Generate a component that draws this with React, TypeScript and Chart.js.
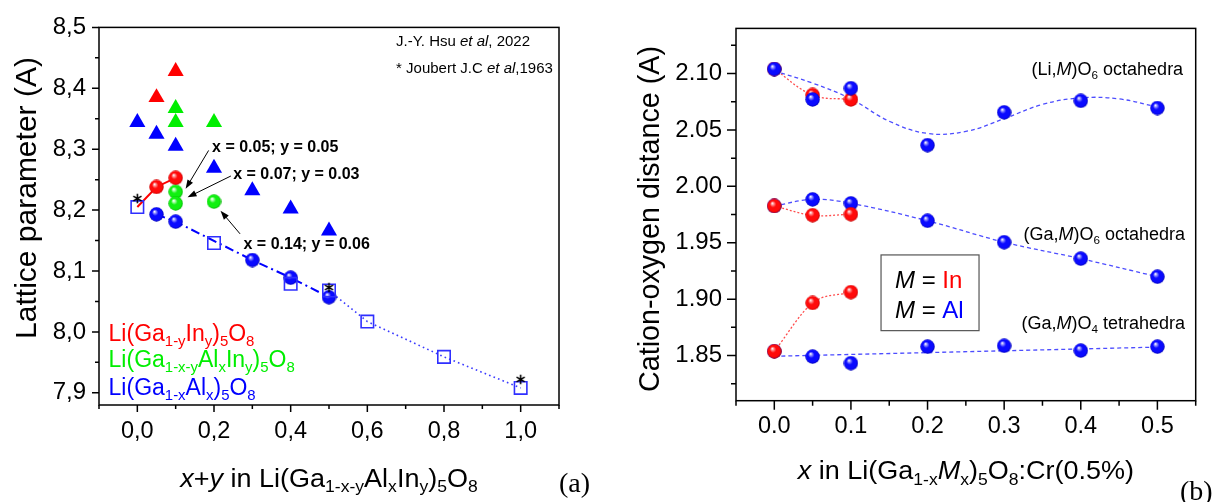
import React, { useEffect, useRef } from "react";
import { Chart, registerables } from "chart.js";
Chart.register(...registerables);

const SANS = '"Liberation Sans", Arial, Helvetica, sans-serif';
const SERIF = '"Liberation Serif", "Times New Roman", Times, serif';
Chart.defaults.font.family = SANS;

// ================= Panel (a): lattice parameter =================
const triInX = [0.05, 0.1];
const triInY = [8.385, 8.428];
const triMixX = [0.1, 0.1, 0.2];
const triMixY = [8.367, 8.344, 8.344];
const triAlX = [0, 0.05, 0.1, 0.2, 0.3, 0.4, 0.5];
const triAlY = [8.344, 8.325, 8.305, 8.269, 8.232, 8.202, 8.166];
const ballInX = [0.05, 0.1];
const ballInY = [8.238, 8.253];
const lineInX = [0, 0.05, 0.1];
const lineInY = [8.205, 8.238, 8.253];
const ballMixX = [0.1, 0.1, 0.2];
const ballMixY = [8.23, 8.211, 8.214];
const ballAlX = [0.05, 0.1, 0.3, 0.4, 0.5];
const ballAlY = [8.193, 8.181, 8.118, 8.089, 8.057];
const refX = [0, 0.2, 0.4, 0.5, 0.6, 0.8, 1.0];
const refY = [8.205, 8.146, 8.079, 8.068, 8.017, 7.959, 7.908];
const refLineX = [0.5, 0.6, 0.8, 1.0];
const refLineY = [8.068, 8.017, 7.959, 7.908];
const joubertX = [0, 0.5, 1.0];
const joubertY = [8.219, 8.073, 7.922];
const aXMajor = [0, 0.2, 0.4, 0.6, 0.8, 1.0];
const aXMinor = [-0.1, 0.1, 0.3, 0.5, 0.7, 0.9, 1.1];
const aYMajor = [7.9, 8.0, 8.1, 8.2, 8.3, 8.4, 8.5];
const aYMinor = [7.95, 8.05, 8.15, 8.25, 8.35, 8.45];

// ================= Panel (b): cation-oxygen distances =================
const xAl = [0, 0.05, 0.1, 0.2, 0.3, 0.4, 0.5];
const xIn = [0, 0.05, 0.1];
const liO6Al = [2.104, 2.077, 2.087, 2.0365, 2.0656, 2.0758, 2.0694];
const liO6In = [2.104, 2.081, 2.077];
const gaO6Al = [1.9826, 1.9884, 1.9849, 1.9695, 1.9505, 1.9359, 1.9199];
const gaO6In = [1.9826, 1.9744, 1.9753];
const gaO4Al = [1.8538, 1.8491, 1.8433, 1.8579, 1.8587, 1.8544, 1.8579];
const gaO4In = [1.8538, 1.8966, 1.9062];
const liFitX = [0, 0.05, 0.1, 0.15, 0.2, 0.25, 0.3, 0.35, 0.4, 0.45, 0.5];
const liFitY = [2.1023, 2.0915, 2.0775, 2.0577, 2.0469, 2.0487, 2.06, 2.0726, 2.0784, 2.0775, 2.0703];
const gaO4FitX = [0, 0.5];
const gaO4FitY = [1.8494, 1.8575];
const bXMajor = [0, 0.1, 0.2, 0.3, 0.4, 0.5];
const bXMinor = [-0.05, 0.05, 0.15, 0.25, 0.35, 0.45, 0.55];
const bYMajor = [1.85, 1.9, 1.95, 2.0, 2.05, 2.1];
const bYMinor = [1.825, 1.875, 1.925, 1.975, 2.025, 2.075, 2.125];

const pts = (xs: number[], ys: number[]) => xs.map((x, i) => ({ x, y: ys[i] }));

type Seg = { t: string; sub?: boolean; it?: boolean; c?: string };

function fontStr(size: number, it?: boolean, bold?: boolean, fam?: string) {
  return `${it ? "italic " : ""}${bold ? "bold " : ""}${size}px ${fam || SANS}`;
}

function drawRich(
  ctx: CanvasRenderingContext2D,
  segs: Seg[],
  x: number,
  y: number,
  size: number,
  o: { align?: string; rot?: boolean; bold?: boolean; color?: string; family?: string; sx?: number } = {}
) {
  const subSize = size * 0.65;
  ctx.save();
  ctx.translate(x, y);
  if (o.rot) ctx.rotate(-Math.PI / 2);
  if (o.sx) ctx.scale(o.sx, 1);
  ctx.textBaseline = "alphabetic";
  ctx.textAlign = "left";
  let w = 0;
  for (const s of segs) {
    ctx.font = fontStr(s.sub ? subSize : size, s.it, o.bold, o.family);
    w += ctx.measureText(s.t).width;
  }
  let cx = o.align === "center" ? -w / 2 : o.align === "right" ? -w : 0;
  const base = size * 0.36;
  for (const s of segs) {
    ctx.font = fontStr(s.sub ? subSize : size, s.it, o.bold, o.family);
    ctx.fillStyle = s.c || o.color || "#000";
    ctx.fillText(s.t, cx, s.sub ? base + size * 0.22 : base);
    cx += ctx.measureText(s.t).width;
  }
  ctx.restore();
}

function drawArrow(ctx: CanvasRenderingContext2D, x1: number, y1: number, x2: number, y2: number) {
  const a = Math.atan2(y2 - y1, x2 - x1);
  const L = 9;
  const W = 3.2;
  ctx.beginPath();
  ctx.moveTo(x1, y1);
  ctx.lineTo(x2 - Math.cos(a) * L * 0.8, y2 - Math.sin(a) * L * 0.8);
  ctx.stroke();
  ctx.beginPath();
  ctx.moveTo(x2, y2);
  ctx.lineTo(x2 - L * Math.cos(a) + W * Math.sin(a), y2 - L * Math.sin(a) - W * Math.cos(a));
  ctx.lineTo(x2 - L * Math.cos(a) - W * Math.sin(a), y2 - L * Math.sin(a) + W * Math.cos(a));
  ctx.closePath();
  ctx.fill();
}

function drawFrame(chart: any, xMaj: number[], xMin: number[], yMaj: number[], yMin: number[], majLen: number, minLen: number) {
  const ctx: CanvasRenderingContext2D = chart.ctx;
  const a = chart.chartArea;
  const sx = chart.scales.x;
  const sy = chart.scales.y;
  ctx.save();
  ctx.strokeStyle = "#000";
  ctx.lineWidth = 1.5;
  ctx.strokeRect(a.left, a.top, a.right - a.left, a.bottom - a.top);
  ctx.beginPath();
  for (const v of xMaj) {
    const p = sx.getPixelForValue(v);
    ctx.moveTo(p, a.bottom);
    ctx.lineTo(p, a.bottom + majLen);
  }
  for (const v of xMin) {
    const p = sx.getPixelForValue(v);
    ctx.moveTo(p, a.bottom);
    ctx.lineTo(p, a.bottom + minLen);
  }
  for (const v of yMaj) {
    const p = sy.getPixelForValue(v);
    ctx.moveTo(a.left, p);
    ctx.lineTo(a.left - majLen, p);
  }
  for (const v of yMin) {
    const p = sy.getPixelForValue(v);
    ctx.moveTo(a.left, p);
    ctx.lineTo(a.left - minLen, p);
  }
  ctx.stroke();
  ctx.restore();
}

function makeBall(light: string, main: string, dark: string, size: number) {
  const c = document.createElement("canvas");
  c.width = size;
  c.height = size;
  const g = c.getContext("2d")!;
  const r = size / 2;
  const grad = g.createRadialGradient(r * 0.72, r * 0.62, r * 0.04, r, r, r);
  grad.addColorStop(0, "#ffffff");
  grad.addColorStop(0.14, light);
  grad.addColorStop(0.4, main);
  grad.addColorStop(0.8, main);
  grad.addColorStop(1, dark);
  g.fillStyle = grad;
  g.beginPath();
  g.arc(r, r, r - 0.3, 0, Math.PI * 2);
  g.fill();
  return c;
}

function makeAsterisk(size: number) {
  const c = document.createElement("canvas");
  c.width = size;
  c.height = size;
  const g = c.getContext("2d")!;
  const r = size / 2 - 0.8;
  g.strokeStyle = "#000";
  g.lineWidth = 1.6;
  g.lineCap = "butt";
  g.beginPath();
  for (let k = 0; k < 3; k++) {
    const ang = -Math.PI / 2 + (k * Math.PI) / 3;
    g.moveTo(size / 2 - Math.cos(ang) * r, size / 2 - Math.sin(ang) * r);
    g.lineTo(size / 2 + Math.cos(ang) * r, size / 2 + Math.sin(ang) * r);
  }
  g.stroke();
  return c;
}

function tickFont(size: number) {
  return { family: SANS, size };
}

function PanelA() {
  const ref = useRef<HTMLCanvasElement | null>(null);
  useEffect(() => {
    if (!ref.current) return;
    const ballRed = makeBall("#ff9a9a", "#ff0a0a", "#b80000", 15);
    const ballGreen = makeBall("#b0ffb0", "#10f010", "#00a800", 15);
    const ballBlue = makeBall("#9a9aff", "#0a0aff", "#0000a8", 15);
    const aster = makeAsterisk(11);
    const X = (c: any, v: number) => c.scales.x.getPixelForValue(v);
    const Y = (c: any, v: number) => c.scales.y.getPixelForValue(v);
    const overlay = {
      id: "overlayA",
      afterDraw(chart: any) {
        const ctx: CanvasRenderingContext2D = chart.ctx;
        drawFrame(chart, aXMajor, aXMinor, aYMajor, aYMinor, 7, 4);
        // source notes
        drawRich(ctx, [{ t: "J.-Y. Hsu " }, { t: "et al", it: true }, { t: ", 2022" }], X(chart, 0.675), Y(chart, 8.478), 15);
        drawRich(ctx, [{ t: "* Joubert J.C " }, { t: "et al", it: true }, { t: ",1963" }], X(chart, 0.675), Y(chart, 8.434), 15);
        // bold annotations and arrows
        drawRich(ctx, [{ t: "x = 0.05; y = 0.05" }], X(chart, 0.195), Y(chart, 8.3055), 16, { bold: true });
        drawRich(ctx, [{ t: "x = 0.07; y = 0.03" }], X(chart, 0.25), Y(chart, 8.2601), 16, { bold: true });
        drawRich(ctx, [{ t: "x = 0.14; y = 0.06" }], X(chart, 0.277), Y(chart, 8.1449), 16, { bold: true });
        ctx.save();
        ctx.strokeStyle = "#000";
        ctx.fillStyle = "#000";
        ctx.lineWidth = 1;
        drawArrow(ctx, X(chart, 0.186), Y(chart, 8.298), X(chart, 0.126), Y(chart, 8.235));
        drawArrow(ctx, X(chart, 0.244), Y(chart, 8.256), X(chart, 0.131), Y(chart, 8.221));
        drawArrow(ctx, X(chart, 0.268), Y(chart, 8.161), X(chart, 0.217), Y(chart, 8.199));
        ctx.restore();
        // composition legend
        drawRich(
          ctx,
          [{ t: "Li(Ga" }, { t: "1-y", sub: true }, { t: "In" }, { t: "y", sub: true }, { t: ")" }, { t: "5", sub: true }, { t: "O" }, { t: "8", sub: true }],
          X(chart, -0.075), Y(chart, 7.9987), 23, { color: "#ff0000" }
        );
        drawRich(
          ctx,
          [{ t: "Li(Ga" }, { t: "1-x-y", sub: true }, { t: "Al" }, { t: "x", sub: true }, { t: "In" }, { t: "y", sub: true }, { t: ")" }, { t: "5", sub: true }, { t: "O" }, { t: "8", sub: true }],
          X(chart, -0.075), Y(chart, 7.9555), 23, { color: "#00ee00" }
        );
        drawRich(
          ctx,
          [{ t: "Li(Ga" }, { t: "1-x", sub: true }, { t: "Al" }, { t: "x", sub: true }, { t: ")" }, { t: "5", sub: true }, { t: "O" }, { t: "8", sub: true }],
          X(chart, -0.075), Y(chart, 7.9095), 23, { color: "#0000ff" }
        );
        // axis titles
        drawRich(
          ctx,
          [{ t: "x", it: true }, { t: "+" }, { t: "y", it: true }, { t: " in Li(Ga" }, { t: "1-x-y", sub: true }, { t: "Al" }, { t: "x", sub: true }, { t: "In" }, { t: "y", sub: true }, { t: ")" }, { t: "5", sub: true }, { t: "O" }, { t: "8", sub: true }],
          X(chart, 0.5), 477.5, 25, { align: "center", sx: 1.08 }
        );
        drawRich(ctx, [{ t: "Lattice parameter (A)" }], 25, 198, 30, { align: "center", rot: true });
        drawRich(ctx, [{ t: "(a)" }], 559, 482, 28, { family: SERIF });
      },
    };
    const chart = new Chart(ref.current, {
      type: "scatter",
      data: {
        datasets: [
          { data: pts(joubertX, joubertY), pointStyle: aster, pointRadius: 5, order: 0 },
          { data: pts(refX, refY), pointStyle: "rect", pointRadius: 8.8, pointBorderColor: "#2f2fff", pointBackgroundColor: "rgba(0,0,0,0)", pointBorderWidth: 1.6, order: 1 },
          { data: pts(ballInX, ballInY), pointStyle: ballRed, pointRadius: 7, order: 2 },
          { data: pts(ballMixX, ballMixY), pointStyle: ballGreen, pointRadius: 7, order: 2 },
          { data: pts(ballAlX, ballAlY), pointStyle: ballBlue, pointRadius: 7, order: 2 },
          { data: pts(triInX, triInY), pointStyle: "triangle", pointRadius: 9.3, pointBackgroundColor: "#ff0000", pointBorderWidth: 0, order: 2 },
          { data: pts(triMixX, triMixY), pointStyle: "triangle", pointRadius: 9.3, pointBackgroundColor: "#00ee00", pointBorderWidth: 0, order: 2 },
          { data: pts(triAlX, triAlY), pointStyle: "triangle", pointRadius: 9.3, pointBackgroundColor: "#0000ff", pointBorderWidth: 0, order: 2 },
          { data: pts(lineInX, lineInY), showLine: true, pointRadius: 0, borderColor: "#ff0000", borderWidth: 2, order: 5 },
          { data: pts(ballAlX, ballAlY), showLine: true, pointRadius: 0, borderColor: "#0000ff", borderWidth: 2, borderDash: [9, 4, 2, 4], order: 5 },
          { data: pts(refLineX, refLineY), showLine: true, pointRadius: 0, borderColor: "#3a3aff", borderWidth: 1.6, borderDash: [1.6, 3.2], order: 5 },
        ] as any,
      },
      options: {
        responsive: false,
        animation: false,
        events: [],
        layout: { padding: { top: 22, right: 41, left: 0, bottom: 0 } },
        plugins: { legend: { display: false }, tooltip: { enabled: false } },
        scales: {
          x: {
            type: "linear",
            min: -0.1,
            max: 1.1,
            grid: { display: false, drawTicks: false },
            border: { display: false },
            afterBuildTicks: (s: any) => {
              s.ticks = aXMajor.map((v) => ({ value: v }));
            },
            afterFit: (s: any) => {
              s.height = 97;
            },
            ticks: {
              callback: (v: any) => Number(v).toFixed(1).replace(".", ","),
              font: tickFont(23.5),
              color: "#000",
              padding: 12,
              maxRotation: 0,
              autoSkip: false,
            },
          },
          y: {
            type: "linear",
            min: 7.88,
            max: 8.5,
            grid: { display: false, drawTicks: false },
            border: { display: false },
            afterBuildTicks: (s: any) => {
              s.ticks = aYMajor.map((v) => ({ value: v }));
            },
            afterFit: (s: any) => {
              s.width = 99;
            },
            ticks: {
              callback: (v: any) => Number(v).toFixed(1).replace(".", ","),
              font: tickFont(24),
              color: "#000",
              padding: 13,
              autoSkip: false,
            },
          },
        },
      } as any,
      plugins: [overlay],
    });
    return () => chart.destroy();
  }, []);
  return (
    <div style={{ position: "absolute", left: 0, top: 0, width: 600, height: 502 }}>
      <canvas ref={ref} width={600} height={502} style={{ width: 600, height: 502 }} />
    </div>
  );
}

function PanelB() {
  const ref = useRef<HTMLCanvasElement | null>(null);
  useEffect(() => {
    if (!ref.current) return;
    const ballRed = makeBall("#ff9a9a", "#ff0a0a", "#b80000", 15);
    const ballBlue = makeBall("#9a9aff", "#0a0aff", "#0000a8", 15);
    const X = (c: any, v: number) => c.scales.x.getPixelForValue(v);
    const Y = (c: any, v: number) => c.scales.y.getPixelForValue(v);
    const overlay = {
      id: "overlayB",
      afterDraw(chart: any) {
        const ctx: CanvasRenderingContext2D = chart.ctx;
        drawFrame(chart, bXMajor, bXMinor, bYMajor, bYMinor, 9, 5);
        drawRich(ctx, [{ t: "(Li," }, { t: "M", it: true }, { t: ")O" }, { t: "6", sub: true }, { t: " octahedra" }], X(chart, 0.5336), Y(chart, 2.1046), 18, { align: "right" });
        drawRich(ctx, [{ t: "(Ga," }, { t: "M", it: true }, { t: ")O" }, { t: "6", sub: true }, { t: " octahedra" }], X(chart, 0.5362), Y(chart, 1.958), 18, { align: "right" });
        drawRich(ctx, [{ t: "(Ga," }, { t: "M", it: true }, { t: ")O" }, { t: "4", sub: true }, { t: " tetrahedra" }], X(chart, 0.536), Y(chart, 1.8794), 18, { align: "right" });
        // legend box
        const bx1 = X(chart, 0.1393);
        const by1 = Y(chart, 1.9392);
        const bx2 = X(chart, 0.2672);
        const by2 = Y(chart, 1.8721);
        ctx.save();
        ctx.strokeStyle = "#555";
        ctx.lineWidth = 1.2;
        ctx.strokeRect(bx1, by1, bx2 - bx1, by2 - by1);
        ctx.restore();
        drawRich(ctx, [{ t: "M", it: true }, { t: " = " }, { t: "In", c: "#ff0000" }], X(chart, 0.1575), Y(chart, 1.9173), 24);
        drawRich(ctx, [{ t: "M", it: true }, { t: " = " }, { t: "Al", c: "#0000ff" }], X(chart, 0.1575), Y(chart, 1.8911), 24);
        // axis titles
        drawRich(
          ctx,
          [{ t: "x", it: true }, { t: " in Li(Ga" }, { t: "1-x", sub: true }, { t: "M", it: true }, { t: "x", sub: true }, { t: ")" }, { t: "5", sub: true }, { t: "O" }, { t: "8", sub: true }, { t: ":Cr(0.5%)" }],
          X(chart, 0.25), 470, 25, { align: "center", sx: 1.08 }
        );
        drawRich(ctx, [{ t: "Cation-oxygen distance (A)" }], 49, 219, 28.7, { align: "center", rot: true });
        drawRich(ctx, [{ t: "(b)" }], 580, 490, 28, { family: SERIF });
      },
    };
    const dashBlue = { showLine: true, pointRadius: 0, borderColor: "#4d4dff", borderWidth: 1.3, borderDash: [4, 3], order: 10 };
    const dotRed = { showLine: true, pointRadius: 0, borderColor: "#ff4d4d", borderWidth: 1.3, borderDash: [2, 2], order: 10 };
    const chart = new Chart(ref.current, {
      type: "scatter",
      data: {
        datasets: [
          { data: pts(xAl, liO6Al), pointStyle: ballBlue, pointRadius: 7, order: 2 },
          { data: pts(xIn, liO6In), pointStyle: ballRed, pointRadius: 7, order: 3 },
          { data: pts(xIn, gaO6In), pointStyle: ballRed, pointRadius: 7, order: 2 },
          { data: pts(xAl, gaO6Al), pointStyle: ballBlue, pointRadius: 7, order: 3 },
          { data: pts(xIn, gaO4In), pointStyle: ballRed, pointRadius: 7, order: 2 },
          { data: pts(xAl, gaO4Al), pointStyle: ballBlue, pointRadius: 7, order: 3 },
          { ...dashBlue, data: pts(liFitX, liFitY), tension: 0.4 },
          { ...dashBlue, data: pts(xAl, gaO6Al), tension: 0.4 },
          { ...dashBlue, data: pts(gaO4FitX, gaO4FitY) },
          { ...dotRed, data: pts(xIn, liO6In), tension: 0.4 },
          { ...dotRed, data: pts(xIn, gaO6In), tension: 0.4 },
          { ...dotRed, data: pts(xIn, gaO4In), cubicInterpolationMode: "monotone" },
        ] as any,
      },
      options: {
        responsive: false,
        animation: false,
        events: [],
        layout: { padding: { top: 22.7, right: 19.3, left: 0, bottom: 0 } },
        plugins: { legend: { display: false }, tooltip: { enabled: false } },
        scales: {
          x: {
            type: "linear",
            min: -0.05,
            max: 0.55,
            grid: { display: false, drawTicks: false },
            border: { display: false },
            afterBuildTicks: (s: any) => {
              s.ticks = bXMajor.map((v) => ({ value: v }));
            },
            afterFit: (s: any) => {
              s.height = 101.3;
            },
            ticks: {
              callback: (v: any) => Number(v).toFixed(1),
              font: tickFont(23.5),
              color: "#000",
              padding: 12,
              maxRotation: 0,
              autoSkip: false,
            },
          },
          y: {
            type: "linear",
            min: 1.81,
            max: 2.14,
            grid: { display: false, drawTicks: false },
            border: { display: false },
            afterBuildTicks: (s: any) => {
              s.ticks = bYMajor.map((v) => ({ value: v }));
            },
            afterFit: (s: any) => {
              s.width = 136;
            },
            ticks: {
              callback: (v: any) => Number(v).toFixed(2),
              font: tickFont(24),
              color: "#000",
              padding: 14,
              autoSkip: false,
            },
          },
        },
      } as any,
      plugins: [overlay],
    });
    return () => chart.destroy();
  }, []);
  return (
    <div style={{ position: "absolute", left: 600, top: 0, width: 615, height: 502 }}>
      <canvas ref={ref} width={615} height={502} style={{ width: 615, height: 502 }} />
    </div>
  );
}

export default function App() {
  return (
    <div style={{ position: "fixed", left: 0, top: 0, width: 1215, height: 502, background: "#fff", overflow: "hidden" }}>
      <PanelA />
      <PanelB />
    </div>
  );
}
